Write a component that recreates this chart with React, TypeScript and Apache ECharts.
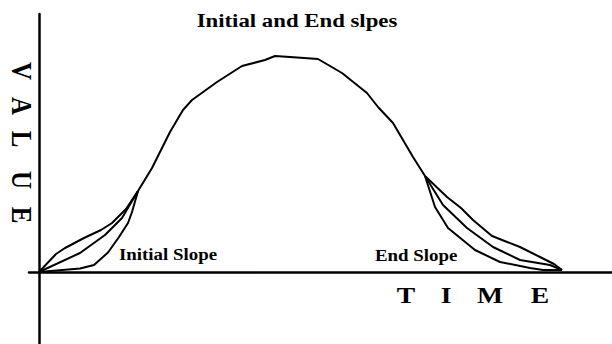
import React, { useEffect, useRef } from "react";
import * as echarts from "echarts";

// Arbitrary units: time (x) and value (y)
const mainCurve: number[][] = [
  [9.9, 8.1], [11.3, 10.4], [13.1, 14.0], [14.4, 16.2], [15.3, 17.2], [17.8, 19.0],
  [20.3, 20.6], [22.6, 21.2], [23.6, 21.6], [25.1, 21.5], [27.9, 21.3], [30.3, 19.9],
  [32.8, 17.9], [33.9, 16.5], [35.4, 14.9], [37.4, 11.5], [38.6, 9.6],
];
const initialUpper: number[][] = [
  [0, 0], [1.7, 1.8], [2.6, 2.4], [4.5, 3.4], [6.2, 4.2], [7.3, 4.9], [8.7, 6.3], [9.9, 8.1],
];
const initialMiddle: number[][] = [
  [0, 0], [4.1, 1.9], [6.6, 3.7], [8.3, 5.4], [9.9, 8.1],
];
const initialLower: number[][] = [
  [0, 0], [4.1, 0.35], [5.5, 0.7], [6.9, 1.95], [8.0, 3.5], [8.9, 4.9], [9.3, 6.0], [9.9, 8.1],
];
const endUpper: number[][] = [
  [38.6, 9.6], [40.8, 7.5], [42.2, 6.4], [43.4, 5.2], [45.3, 3.6], [48.1, 2.5], [50.3, 1.4], [51.5, 0.8], [52.3, 0.2],
];
const endMiddle: number[][] = [
  [38.6, 9.6], [40.4, 6.7], [42.8, 4.4], [45.4, 2.5], [48.1, 1.2], [51.1, 0.7], [52.3, 0.2],
];
const endLower: number[][] = [
  [38.6, 9.6], [39.6, 6.5], [40.9, 4.4], [43.6, 2.2], [46.1, 1.0], [49.1, 0.4], [50.4, 0.2], [52.3, 0.2],
];

const titleText = "Initial and End slpes";
const initialLabel = "Initial Slope";
const endLabel = "End Slope";
const timeLetters = ["T", "I", "M", "E"];
const valueLetters = ["V", "A", "L", "U", "E"];

const SERIF = '"Liberation Serif", "Times New Roman", serif';

export default function App() {
  const ref = useRef<HTMLDivElement>(null);
  useEffect(() => {
    if (!ref.current) return;
    const chart = echarts.init(ref.current, undefined, { renderer: "svg" });
    const lineSeries = (name: string, data: number[][]) => ({
      name,
      type: "line",
      data,
      showSymbol: false,
      symbol: "none",
      silent: true,
      lineStyle: { color: "#000", width: 2 },
      z: 3,
    });
    const timeX = [406, 446, 490, 540];
    const valueY = [71, 106, 139, 180, 215];
    const graphics: any[] = [
      {
        type: "text", x: 297, y: 21, scaleX: 1.2,
        style: { text: titleText, fill: "#000", font: `bold 19px ${SERIF}`, align: "center", verticalAlign: "middle" },
      },
      {
        type: "text", x: 119, y: 255, scaleX: 1.18,
        style: { text: initialLabel, fill: "#000", font: `bold 16px ${SERIF}`, align: "left", verticalAlign: "middle" },
      },
      {
        type: "text", x: 375, y: 256, scaleX: 1.18,
        style: { text: endLabel, fill: "#000", font: `bold 16px ${SERIF}`, align: "left", verticalAlign: "middle" },
      },
      ...timeLetters.map((t, i) => ({
        type: "text", x: timeX[i], y: 295, scaleX: 1.2,
        style: { text: t, fill: "#000", font: `bold 23px ${SERIF}`, align: "center", verticalAlign: "middle" },
      })),
      ...valueLetters.map((t, i) => ({
        type: "text", x: 22, y: valueY[i], rotation: -Math.PI / 2, scaleY: 1.2,
        style: { text: t, fill: "#000", font: `bold 25px ${SERIF}`, align: "center", verticalAlign: "middle" },
      })),
    ];
    chart.setOption({
      animation: false,
      backgroundColor: "#fff",
      grid: { left: 29, right: 0, top: 14, bottom: 0, containLabel: false },
      xAxis: {
        type: "value", min: -1.0, max: 57.3,
        axisLine: { show: true, onZero: true, lineStyle: { color: "#000", width: 2.5 } },
        axisTick: { show: false }, axisLabel: { show: false }, splitLine: { show: false },
      },
      yAxis: {
        type: "value", min: -7.2, max: 25.8,
        axisLine: { show: true, onZero: true, lineStyle: { color: "#000", width: 2.5 } },
        axisTick: { show: false }, axisLabel: { show: false }, splitLine: { show: false },
      },
      series: [
        lineSeries("main", mainCurve),
        lineSeries("initialUpper", initialUpper),
        lineSeries("initialMiddle", initialMiddle),
        lineSeries("initialLower", initialLower),
        lineSeries("endUpper", endUpper),
        lineSeries("endMiddle", endMiddle),
        lineSeries("endLower", endLower),
      ],
      graphic: graphics,
    });
    return () => chart.dispose();
  }, []);
  return (
    <div
      ref={ref}
      style={{ position: "fixed", left: 0, top: 0, width: 612, height: 344, background: "#fff" }}
    />
  );
}
